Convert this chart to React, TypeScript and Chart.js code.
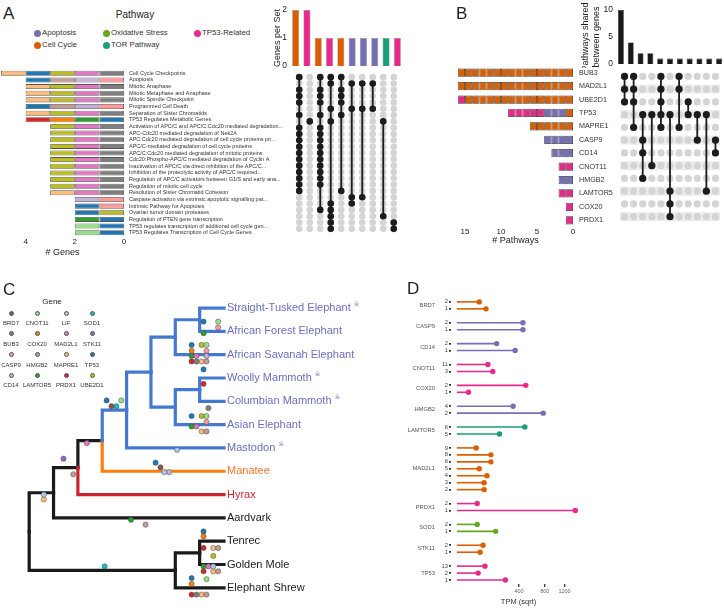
import React, { useEffect, useRef } from 'react';
import { Chart, registerables } from 'chart.js';

Chart.register(...registerables);

const FONT = "'Liberation Sans', Arial, Helvetica, sans-serif";
Chart.defaults.font.family = FONT;
Chart.defaults.color = '#222';

// ================= shared palettes =================
const categoryNames = ['Apoptosis', 'Cell Cycle', 'Oxidative Stress', 'TOR Pathway', 'TP53-Related'];
const categoryColors = ['#7570b3', '#d95f02', '#66a61e', '#1b9e77', '#e7298a'];

const geneNames = ['BRD7', 'CNOT11', 'LIF', 'SOD1', 'BUB3', 'COX20', 'MAD2L1', 'STK11', 'CASP9', 'HMGB2', 'MAPRE1', 'TP53', 'CD14', 'LAMTOR5', 'PRDX1', 'UBE2D1'];
const geneColors = ['#8c564b', '#98df8a', '#aec7e8', '#17becf', '#7f7f7f', '#ff7f0e', '#e377c2', '#9467bd', '#ff9896', '#c49c94', '#ffbb78', '#1f77b4', '#c5b0d5', '#2ca02c', '#d62728', '#bcbd22'];

const catColor = (c: string) => categoryColors[categoryNames.indexOf(c)];
const geneColor = (g: string) => geneColors[geneNames.indexOf(g)];

// ================= Panel A =================
const pathways = [
  'Cell Cycle Checkpoints',
  'Apoptosis',
  'Mitotic Anaphase',
  'Mitotic Metaphase and Anaphase',
  'Mitotic Spindle Checkpoint',
  'Programmed Cell Death',
  'Separation of Sister Chromatids',
  'TP53 Regulates Metabolic Genes',
  'Activation of APC/C and APC/C:Cdc20 mediated degradation...',
  'APC-Cdc20 mediated degradation of Nek2A',
  'APC:Cdc20 mediated degradation of cell cycle proteins pri...',
  'APC/C-mediated degradation of cell cycle proteins',
  'APC/C:Cdc20 mediated degradation of mitotic proteins',
  'Cdc20:Phospho-APC/C mediated degradation of Cyclin A',
  'Inactivation of APC/C via direct inhibition of the APC/C...',
  'Inhibition of the proteolytic activity of APC/C required...',
  'Regulation of APC/C activators between G1/S and early ana...',
  'Regulation of mitotic cell cycle',
  'Resolution of Sister Chromatid Cohesion',
  'Caspase activation via extrinsic apoptotic signalling pat...',
  'Intrinsic Pathway for Apoptosis',
  'Ovarian tumor domain proteases',
  'Regulation of PTEN gene transcription',
  'TP53 regulates transcription of additional cell cycle gen...',
  'TP53 Regulates Transcription of Cell Cycle Genes',
];
const pathwayCategory = [
  'Cell Cycle', 'Apoptosis', 'Cell Cycle', 'Cell Cycle', 'Cell Cycle', 'Apoptosis', 'Cell Cycle', 'TP53-Related',
  'Cell Cycle', 'Cell Cycle', 'Cell Cycle', 'Cell Cycle', 'Cell Cycle', 'Cell Cycle', 'Cell Cycle', 'Cell Cycle',
  'Cell Cycle', 'Cell Cycle', 'Cell Cycle', 'Apoptosis', 'Apoptosis', 'TP53-Related', 'TP53-Related', 'TP53-Related',
  'TP53-Related',
];
// genes of each pathway, listed from the 0 end outwards
const pathwayGenes = [
  ['BUB3', 'MAD2L1', 'UBE2D1', 'TP53', 'MAPRE1'],
  ['CASP9', 'CD14', 'HMGB2', 'TP53'],
  ['BUB3', 'MAD2L1', 'UBE2D1', 'MAPRE1'],
  ['BUB3', 'MAD2L1', 'UBE2D1', 'MAPRE1'],
  ['BUB3', 'MAD2L1', 'UBE2D1', 'MAPRE1'],
  ['CASP9', 'CD14', 'HMGB2', 'TP53'],
  ['BUB3', 'MAD2L1', 'UBE2D1', 'MAPRE1'],
  ['TP53', 'LAMTOR5', 'COX20', 'PRDX1'],
  ['BUB3', 'MAD2L1', 'UBE2D1'],
  ['BUB3', 'MAD2L1', 'UBE2D1'],
  ['BUB3', 'MAD2L1', 'UBE2D1'],
  ['BUB3', 'MAD2L1', 'UBE2D1'],
  ['BUB3', 'MAD2L1', 'UBE2D1'],
  ['BUB3', 'MAD2L1', 'UBE2D1'],
  ['BUB3', 'MAD2L1', 'UBE2D1'],
  ['BUB3', 'MAD2L1', 'UBE2D1'],
  ['BUB3', 'MAD2L1', 'UBE2D1'],
  ['BUB3', 'MAD2L1', 'UBE2D1'],
  ['BUB3', 'MAD2L1', 'MAPRE1'],
  ['CASP9', 'CD14'],
  ['CASP9', 'TP53'],
  ['UBE2D1', 'TP53'],
  ['TP53', 'LAMTOR5'],
  ['TP53', 'CNOT11'],
  ['TP53', 'CNOT11'],
];
const aGeneTicks = [0, 2, 4];
const aGeneMax = 5;
const aSets = [['BUB3', 'MAD2L1'], ['COX20', 'PRDX1'], ['UBE2D1'], ['TP53'], ['MAPRE1'], ['CASP9'], ['CD14'], ['HMGB2'], ['LAMTOR5'], ['CNOT11']];
const aSetCategory = ['Cell Cycle', 'TP53-Related', 'Cell Cycle', 'TP53-Related', 'Cell Cycle', 'Apoptosis', 'Apoptosis', 'Apoptosis', 'TOR Pathway', 'TP53-Related'];
const aSetTicks = [0, 1, 2];

// ================= Panel B =================
const bGenes = ['BUB3', 'MAD2L1', 'UBE2D1', 'TP53', 'MAPRE1', 'CASP9', 'CD14', 'CNOT11', 'HMGB2', 'LAMTOR5', 'COX20', 'PRDX1'];
const bCategoryOrder = ['Cell Cycle', 'Apoptosis', 'TP53-Related'];
const bPathwayTicks = [0, 5, 10, 15];
const bPathwayMax = 16;
const bSets = [
  ['BUB3', 'MAD2L1', 'UBE2D1'],
  ['BUB3', 'MAD2L1', 'UBE2D1', 'MAPRE1'],
  ['TP53', 'CASP9', 'CD14', 'HMGB2'],
  ['TP53', 'CNOT11'],
  ['BUB3', 'MAD2L1', 'UBE2D1', 'TP53', 'MAPRE1'],
  ['TP53', 'LAMTOR5', 'COX20', 'PRDX1'],
  ['BUB3', 'MAD2L1', 'MAPRE1'],
  ['UBE2D1', 'TP53'],
  ['TP53', 'CASP9'],
  ['TP53', 'LAMTOR5'],
  ['CASP9', 'CD14'],
];
const bSetCounts = [10, 4, 2, 2, 1, 1, 1, 1, 1, 1, 1];
const bCountTicks = [0, 5, 10];

// ================= Panel C (tree) =================
const tipNames = ['Straight-Tusked Elephant', 'African Forest Elephant', 'African Savanah Elephant', 'Woolly Mammoth', 'Columbian Mammoth', 'Asian Elephant', 'Mastodon', 'Manatee', 'Hyrax', 'Aardvark', 'Tenrec', 'Golden Mole', 'Elephant Shrew'];
const tipGroup = ['eleph', 'eleph', 'eleph', 'eleph', 'eleph', 'eleph', 'eleph', 'manatee', 'hyrax', 'other', 'other', 'other', 'other'];
const tipExtinct = [true, false, false, true, true, false, true, false, false, false, false, false, false];
const tipDepth = 8;
const treeNodes = [
  { name: 'n1', children: ['Straight-Tusked Elephant', 'African Forest Elephant'], depth: 7, group: 'eleph' },
  { name: 'n2', children: ['n1', 'African Savanah Elephant'], depth: 6, group: 'eleph' },
  { name: 'n3', children: ['Woolly Mammoth', 'Columbian Mammoth'], depth: 7, group: 'eleph' },
  { name: 'n4', children: ['n3', 'Asian Elephant'], depth: 6, group: 'eleph' },
  { name: 'n5', children: ['n2', 'n4'], depth: 5, group: 'eleph' },
  { name: 'n6', children: ['n5', 'Mastodon'], depth: 4, group: 'eleph' },
  { name: 'n7', children: ['n6', 'Manatee'], depth: 3, group: 'other' },
  { name: 'n8', children: ['n7', 'Hyrax'], depth: 2, group: 'other' },
  { name: 'n9', children: ['n8', 'Aardvark'], depth: 1, group: 'other' },
  { name: 'n10', children: ['Tenrec', 'Golden Mole'], depth: 7, group: 'other' },
  { name: 'n11', children: ['n10', 'Elephant Shrew'], depth: 6, group: 'other' },
  { name: 'root', children: ['n9', 'n11'], depth: 0, group: 'other' },
];
const branchColors: Record<string, string> = { eleph: '#4479cf', manatee: '#ff7f0e', hyrax: '#c9252b', other: '#1a1a1a' };
const tipLabelColors: Record<string, string> = { eleph: '#6c6fc0', manatee: '#f0782a', hyrax: '#cf2630', other: '#1a1a1a' };
// gene events on branches: [gene, depth, tip-row]
const treeDots: [string, number, number][] = [
  ['TP53', 7.16, 0.58], ['LAMTOR5', 7.16, 1.08], ['CNOT11', 7.76, 0.58], ['CASP9', 7.76, 0.83],
  ['TP53', 6.67, 1.58], ['UBE2D1', 7.08, 1.58], ['CNOT11', 7.28, 1.58],
  ['COX20', 6.67, 1.83], ['CASP9', 7.28, 1.83],
  ['LAMTOR5', 6.67, 2.06], ['MAD2L1', 6.87, 2.06], ['CD14', 7.28, 2.06],
  ['PRDX1', 6.67, 2.29], ['BUB3', 6.87, 2.29], ['MAPRE1', 7.08, 2.29], ['HMGB2', 7.28, 2.29],
  ['TP53', 7.16, 2.63],
  ['PRDX1', 7.16, 3.25],
  ['BUB3', 7.36, 4.29], ['TP53', 6.67, 4.63], ['UBE2D1', 7.08, 4.63], ['CNOT11', 7.28, 4.63],
  ['CASP9', 7.28, 4.88], ['LAMTOR5', 6.67, 5.08], ['MAD2L1', 6.87, 5.08],
  ['MAPRE1', 7.08, 5.29], ['HMGB2', 7.28, 5.29],
  ['TP53', 3.18, 3.96], ['BRD7', 3.38, 4.21], ['SOD1', 3.58, 4.21], ['CNOT11', 3.78, 3.96],
  ['LIF', 6.07, 6.08],
  ['MAD2L1', 2.37, 5.79],
  ['STK11', 1.41, 6.46],
  ['HMGB2', 1.81, 7.13],
  ['TP53', 5.19, 6.63], ['BRD7', 5.39, 6.83], ['LIF', 5.55, 7.04], ['CD14', 5.75, 7.04],
  ['LIF', 0.6, 8.0], ['MAPRE1', 0.6, 8.21],
  ['LAMTOR5', 4.18, 9.08], ['HMGB2', 4.78, 9.29],
  ['SOD1', 3.1, 11.08],
  ['TP53', 7.16, 9.58], ['COX20', 7.16, 9.79],
  ['PRDX1', 7.16, 10.29], ['MAPRE1', 7.56, 10.29], ['HMGB2', 7.76, 10.29], ['UBE2D1', 7.56, 10.63],
  ['LAMTOR5', 7.16, 11.08], ['MAD2L1', 7.36, 11.08], ['LIF', 7.56, 11.08],
  ['PRDX1', 7.16, 11.29], ['MAPRE1', 7.56, 11.29], ['HMGB2', 7.76, 11.29], ['CNOT11', 7.28, 11.63],
  ['TP53', 6.67, 11.58], ['COX20', 6.67, 11.83],
  ['PRDX1', 6.67, 12.29], ['BUB3', 6.87, 12.29], ['MAPRE1', 7.08, 12.29], ['HMGB2', 7.28, 12.29],
];

// ================= Panel D (lollipops) =================
const dGenes = ['BRD7', 'CASP9', 'CD14', 'CNOT11', 'COX20', 'HMGB2', 'LAMTOR5', 'MAD2L1', 'PRDX1', 'SOD1', 'STK11', 'TP53'];
const dGeneCategory = ['Cell Cycle', 'Apoptosis', 'Apoptosis', 'TP53-Related', 'TP53-Related', 'Apoptosis', 'TOR Pathway', 'Cell Cycle', 'TP53-Related', 'Oxidative Stress', 'Cell Cycle', 'TP53-Related'];
const dTranscripts = [['2', '1'], ['2', '1'], ['2', '1'], ['11', '3'], ['2', '1'], ['4', '2'], ['6', '5'], ['9', '8', '6', '5', '4', '3', '2'], ['2', '1'], ['2', '1'], ['2', '1'], ['13', '2', '1']];
const dTPM = [[52, 88], [452, 452], [164, 352], [100, 134], [492, 14], [328, 773], [479, 189], [39, 120, 120, 52, 94, 77, 77], [43, 1453], [43, 156], [71, 56], [82, 47, 244]];
const dTickValues = [400, 800, 1200];

// ================= helpers =================
const fixW = (w: number) => (s: any) => { s.width = w; s.paddingTop = 0; s.paddingBottom = 0; s.paddingLeft = 0; s.paddingRight = 0; };
const fixH = (h: number) => (s: any) => { s.height = h; s.paddingTop = 0; s.paddingBottom = 0; s.paddingLeft = 0; s.paddingRight = 0; };
const noGrid = { display: false, drawTicks: false };
const noBorder = { display: false };
const baseOpts = (extra: any) => ({
  responsive: false,
  animation: false,
  events: [],
  plugins: { legend: { display: false }, tooltip: { enabled: false } },
  ...extra,
});
const idx = (n: number) => Array.from({ length: n }, (_, i) => i);

function ChartCanvas({ x, y, w, h, make }: { x: number; y: number; w: number; h: number; make: () => any }) {
  const ref = useRef<HTMLCanvasElement>(null);
  useEffect(() => {
    const chart = new Chart(ref.current as HTMLCanvasElement, make());
    return () => chart.destroy();
  }, []);
  return (
    <canvas ref={ref} width={w} height={h}
      style={{ position: 'absolute', left: x, top: y, width: w, height: h, display: 'block' }} />
  );
}

// ---------- stacked unit-segment bars (A left, B left) ----------
function segmentBars(labels: string[], segColors: string[][], max: number, ticks: number[], title: string,
  pad: any, axisH: number, axisW: number, labelFont: number, labelPad: number, barPct: number, border: string,
  tickPad: number, titlePadBottom: number) {
  const nSlots = Math.max(...segColors.map(s => s.length));
  const datasets = idx(nSlots).map(slot => ({
    data: segColors.map(s => (slot < s.length ? 1 : null)),
    backgroundColor: segColors.map(s => (slot < s.length ? s[slot] : 'rgba(0,0,0,0)')),
    borderColor: border,
    borderWidth: 0.8,
    borderSkipped: false,
    barPercentage: barPct,
    categoryPercentage: 1,
  }));
  return {
    type: 'bar',
    data: { labels, datasets },
    options: baseOpts({
      indexAxis: 'y',
      layout: { padding: pad },
      scales: {
        x: {
          stacked: true, reverse: true, min: 0, max,
          afterBuildTicks: (s: any) => { s.ticks = ticks.map(v => ({ value: v })); },
          grid: noGrid, border: noBorder,
          ticks: { font: { size: 8 }, color: '#222', padding: tickPad },
          title: { display: true, text: title, font: { size: 9 }, color: '#222', padding: { top: 0, bottom: titlePadBottom } },
          afterFit: fixH(axisH),
        },
        y: {
          stacked: true, position: 'right',
          grid: noGrid, border: noBorder,
          ticks: { autoSkip: false, font: { size: labelFont }, color: '#333', padding: labelPad },
          afterFit: fixW(axisW),
        },
      },
    }),
  };
}

const aBarsConfig = () => segmentBars(
  pathways, pathwayGenes.map(gs => gs.map(geneColor)), aGeneMax, aGeneTicks, '# Genes',
  { left: 1, top: 4, right: 0, bottom: 0 }, 24, 166, 5.5, 5, 0.76, '#555', 1, 2);

const bGeneCats = bGenes.map(g =>
  idx(pathways.length)
    .filter(i => pathwayGenes[i].includes(g))
    .map(i => pathwayCategory[i])
    .sort((a, b) => bCategoryOrder.indexOf(a) - bCategoryOrder.indexOf(b)));

const bBarsConfig = () => segmentBars(
  bGenes, bGeneCats.map(cs => cs.map(catColor)), bPathwayMax, bPathwayTicks, '# Pathways',
  { left: 7.8, top: 0, right: 0, bottom: 0 }, 19, 43, 7.2, 6, 0.62, '#333', 0, 0);

// ---------- set-size bars (A top, B top) ----------
function setBars(values: number[], colors: string[], max: number, ticks: number[], title: any, axisW: number, barPct: number, border: string) {
  return {
    type: 'bar',
    data: {
      labels: values.map((_, i) => 'set' + (i + 1)),
      datasets: [{ data: values, backgroundColor: colors, borderColor: border, borderWidth: 0.6, barPercentage: barPct, categoryPercentage: 1 }],
    },
    options: baseOpts({
      layout: { padding: { top: 10, bottom: 4, left: 0, right: 0 } },
      scales: {
        x: { display: false },
        y: {
          min: 0, max,
          afterBuildTicks: (s: any) => { s.ticks = ticks.map(v => ({ value: v })); },
          grid: noGrid, border: noBorder,
          ticks: { font: { size: 8.5 }, color: '#222', padding: 3 },
          title: { display: true, text: title, font: { size: 9 }, color: '#222', padding: 0 },
          afterFit: fixW(axisW),
        },
      },
    }),
  };
}

const aTopConfig = () => setBars(aSets.map(s => s.length), aSetCategory.map(catColor), 2, aSetTicks, 'Genes per Set', 18, 0.62, '#8a8a8a');
const bTopConfig = () => setBars(bSetCounts, bSetCounts.map(() => '#1a1a1a'), 10, bCountTicks, ['Pathways shared', 'between genes'], 36, 0.6, '#1a1a1a');

// ---------- dot matrices ----------
const stripePlugin = {
  id: 'stripes',
  beforeDatasetsDraw(chart: any, _a: any, opts: any) {
    if (!opts || !opts.rows || !opts.rows.length) return;
    const { ctx, chartArea } = chart;
    const ys = chart.scales.y;
    ctx.save();
    ctx.fillStyle = opts.color;
    opts.rows.forEach((r: number) => {
      const y0 = ys.getPixelForValue(r - opts.half);
      const y1 = ys.getPixelForValue(r + opts.half);
      ctx.fillRect(chartArea.left, Math.min(y0, y1), chartArea.right - chartArea.left, Math.abs(y1 - y0));
    });
    ctx.restore();
  },
};

function matrixConfig(nCols: number, nRows: number, colRows: number[][], radius: number, lineW: number, stripeRows: number[]) {
  const cells: { x: number; y: number }[] = [];
  idx(nCols).forEach(c => idx(nRows).forEach(r => cells.push({ x: c, y: r })));
  const members = colRows.flatMap((rows, c) => rows.map(r => ({ x: c, y: r })));
  const lines = colRows.map((rows, c) => ({
    data: [{ x: c, y: Math.min(...rows) }, { x: c, y: Math.max(...rows) }],
    showLine: true, borderColor: '#1c1c1c', borderWidth: lineW, pointRadius: 0, order: 2, clip: false,
  }));
  return {
    type: 'scatter',
    data: {
      datasets: [
        { data: members, pointRadius: radius, pointBackgroundColor: '#1c1c1c', pointBorderWidth: 0, order: 1, clip: false },
        ...lines,
        { data: cells, pointRadius: radius, pointBackgroundColor: '#d4d4d4', pointBorderWidth: 0, order: 3, clip: false },
      ],
    },
    options: baseOpts({
      layout: { padding: 0 },
      plugins: { legend: { display: false }, tooltip: { enabled: false }, stripes: { rows: stripeRows, color: '#ededed', half: 0.36 } },
      scales: {
        x: { type: 'linear', display: false, min: -0.5, max: nCols - 0.5 },
        y: { type: 'linear', display: false, min: -0.5, max: nRows - 0.5, reverse: true },
      },
    }),
    plugins: [stripePlugin],
  };
}

const aMatrixConfig = () => matrixConfig(
  aSets.length, pathways.length,
  aSets.map(set => idx(pathways.length).filter(i => set.every(g => pathwayGenes[i].includes(g)))),
  3.3, 1.8, []);

const bMatrixConfig = () => matrixConfig(
  bSets.length, bGenes.length,
  bSets.map(set => set.map(g => bGenes.indexOf(g))),
  3.6, 1.8, idx(bGenes.length).filter(i => i % 2 === 1));

// ---------- tree ----------
const treePos: Record<string, { x: number; y: number }> = {};
tipNames.forEach((n, i) => { treePos[n] = { x: tipDepth, y: i }; });
treeNodes.forEach(n => {
  const ys = n.children.map(c => treePos[c].y);
  treePos[n.name] = { x: n.depth, y: (ys[0] + ys[1]) / 2 };
});
const groupOf = (name: string) => {
  const ti = tipNames.indexOf(name);
  if (ti >= 0) return tipGroup[ti];
  return treeNodes.find(n => n.name === name)!.group;
};

const extinctPlugin = {
  id: 'extinct',
  afterDraw(chart: any) {
    const s = chart.scales.y;
    const ctx = chart.ctx;
    ctx.save();
    tipNames.forEach((name, i) => {
      if (!tipExtinct[i]) return;
      ctx.font = `11px ${FONT}`;
      const w = ctx.measureText(name).width;
      const x = s.left + 3 + w + 3;
      const y = s.getPixelForValue(i) - 4;
      ctx.font = `6.5px 'DejaVu Sans'`;
      ctx.fillStyle = tipLabelColors[tipGroup[i]];
      ctx.textBaseline = 'middle';
      ctx.textAlign = 'left';
      ctx.fillText('\u2620', x, y);
    });
    ctx.restore();
  },
};

const treeConfig = () => {
  const edges: any[] = [];
  treeNodes.forEach(n => {
    const p = treePos[n.name];
    n.children.forEach(c => {
      const q = treePos[c];
      edges.push({
        data: [{ x: p.x, y: p.y }, { x: p.x, y: q.y }, { x: q.x, y: q.y }],
        showLine: true, borderColor: branchColors[groupOf(c)], borderWidth: 3.2,
        borderCapStyle: 'square', borderJoinStyle: 'miter', pointRadius: 0, order: groupOf(c) === 'other' ? 3 : 2, clip: false,
      });
    });
  });
  const dotSets = geneNames
    .map(g => ({ g, pts: treeDots.filter(d => d[0] === g).map(d => ({ x: d[1], y: d[2] })) }))
    .filter(d => d.pts.length)
    .map(d => ({
      label: d.g, data: d.pts, pointRadius: 2.6, pointBackgroundColor: geneColor(d.g),
      pointBorderColor: '#4a4a4a', pointBorderWidth: 0.5, order: 1, clip: false,
    }));
  return {
    type: 'scatter',
    data: { datasets: [...dotSets, ...edges] },
    options: baseOpts({
      layout: { padding: 0 },
      scales: {
        x: { type: 'linear', display: false, min: -0.48, max: tipDepth },
        y: {
          type: 'linear', position: 'right', min: -0.625, max: 12.458, reverse: true,
          afterBuildTicks: (s: any) => { s.ticks = tipNames.map((_, i) => ({ value: i })); },
          grid: noGrid, border: noBorder,
          ticks: {
            autoSkip: false, font: { size: 11 }, padding: 3,
            color: (ctx: any) => tipLabelColors[tipGroup[ctx.index] || 'other'],
            callback: (_v: any, i: number) => tipNames[i],
          },
          afterFit: fixW(170),
        },
      },
    }),
    plugins: [extinctPlugin],
  };
};

// ---------- lollipops ----------
const dRows: { gi: number; label: string; tpm: number; row: number }[] = [];
{
  let r = 0;
  dGenes.forEach((_, gi) => {
    dTranscripts[gi].forEach((t, ti) => { dRows.push({ gi, label: t, tpm: dTPM[gi][ti], row: r }); r += 1; });
    r += 1;
  });
}
const dGeneCenters = dGenes.map((_, gi) => {
  const rs = dRows.filter(d => d.gi === gi).map(d => d.row);
  return (Math.min(...rs) + Math.max(...rs)) / 2;
});

const dConfig = () => ({
  type: 'scatter',
  data: {
    datasets: dRows.map(d => {
      const col = catColor(dGeneCategory[d.gi]);
      return {
        label: dGenes[d.gi] + ' ' + d.label,
        data: [{ x: 0, y: d.row }, { x: Math.sqrt(d.tpm), y: d.row }],
        showLine: true, borderColor: col, borderWidth: 1.6,
        pointRadius: [0, 2.7], pointBackgroundColor: col, pointBorderWidth: 0, clip: false,
      };
    }),
  },
  options: baseOpts({
    layout: { padding: 0 },
    scales: {
      x: {
        type: 'linear', min: -1.875, max: 41.56,
        afterBuildTicks: (s: any) => { s.ticks = dTickValues.map(v => ({ value: Math.sqrt(v) })); },
        grid: { display: true, drawOnChartArea: false, drawTicks: true, tickLength: 3, color: '#444', lineWidth: 1.4 },
        border: noBorder,
        ticks: { font: { size: 5.5 }, color: '#666', padding: 1, callback: (_v: any, i: number) => String(dTickValues[i]) },
        title: { display: true, text: 'TPM (sqrt)', font: { size: 7.5 }, color: '#333', padding: 0 },
        afterFit: fixH(22),
      },
      y: {
        type: 'linear', position: 'left', weight: 1, min: -1.135, max: 40.57, reverse: true,
        afterBuildTicks: (s: any) => { s.ticks = dRows.map(d => ({ value: d.row })); },
        grid: { display: true, drawOnChartArea: false, drawTicks: true, tickLength: 2, color: '#333', lineWidth: 1.8 },
        border: noBorder,
        ticks: { autoSkip: false, font: { size: 5.8 }, color: '#444', padding: 1, callback: (_v: any, i: number) => dRows[i].label },
        afterFit: fixW(14),
      },
      yg: {
        type: 'linear', position: 'left', weight: 2, min: -1.135, max: 40.57, reverse: true,
        afterBuildTicks: (s: any) => { s.ticks = dGeneCenters.map(v => ({ value: v })); },
        grid: noGrid, border: noBorder,
        ticks: { autoSkip: false, font: { size: 5.8 }, color: '#555', padding: 2, callback: (_v: any, i: number) => dGenes[i] },
        afterFit: fixW(40),
      },
    },
  }),
});

// ================= HTML text helpers =================
function Txt({ x, y, size, children, color = '#222', center = false }: any) {
  return (
    <div style={{
      position: 'absolute', left: x, top: y, fontSize: size, lineHeight: 1, color, whiteSpace: 'nowrap',
      transform: center ? 'translate(-50%,-50%)' : 'translate(0,-50%)', fontFamily: FONT,
    }}>{children}</div>
  );
}
function Dot({ x, y, d, color, border }: any) {
  return (
    <div style={{
      position: 'absolute', left: x - d / 2, top: y - d / 2, width: d, height: d, borderRadius: '50%',
      background: color, boxSizing: 'border-box', border: border ? `0.6px solid ${border}` : 'none',
    }} />
  );
}

const pathwayLegendCols = [37, 106, 197];
const pathwayLegendRows = [33, 45];
const geneLegendCols = [11, 37, 66, 92];
const geneLegendRows = [313, 333.5, 354.5, 375];

export default function App() {
  return (
    <div style={{ position: 'absolute', left: 0, top: 0, width: 724, height: 608, background: '#fff', overflow: 'hidden', fontFamily: FONT }}>
      <ChartCanvas x={0} y={66} w={290} h={194} make={aBarsConfig} />
      <ChartCanvas x={272} y={0} w={131} h={70} make={aTopConfig} />
      <ChartCanvas x={290} y={70} w={113} h={166} make={aMatrixConfig} />
      <ChartCanvas x={450} y={66} w={166} h={180} make={bBarsConfig} />
      <ChartCanvas x={580} y={0} w={144} h={68} make={bTopConfig} />
      <ChartCanvas x={616} y={66} w={108} h={161} make={bMatrixConfig} />
      <ChartCanvas x={13} y={289} w={381} h={314} make={treeConfig} />
      <ChartCanvas x={397} y={290} w={193} h={316} make={dConfig} />

      <Txt x={3} y={13} size={17}>A</Txt>
      <Txt x={456} y={13} size={17}>B</Txt>
      <Txt x={3} y={289} size={17}>C</Txt>
      <Txt x={407} y={288} size={17}>D</Txt>

      <Txt x={135} y={15} size={10} center>Pathway</Txt>
      {categoryNames.map((c, i) => {
        const cx = pathwayLegendCols[Math.floor(i / 2)];
        const cy = pathwayLegendRows[i % 2];
        return (
          <React.Fragment key={c}>
            <Dot x={cx} y={cy} d={7} color={categoryColors[i]} />
            <Txt x={cx + 5} y={cy} size={7.8} color="#333">{c}</Txt>
          </React.Fragment>
        );
      })}

      <Txt x={52} y={302} size={8} center>Gene</Txt>
      {geneNames.map((g, i) => {
        const cx = geneLegendCols[i % 4];
        const cy = geneLegendRows[Math.floor(i / 4)];
        return (
          <React.Fragment key={g}>
            <Dot x={cx} y={cy} d={5} color={geneColors[i]} border="#555" />
            <Txt x={cx} y={cy + 10} size={6} color="#333" center>{g}</Txt>
          </React.Fragment>
        );
      })}
    </div>
  );
}
